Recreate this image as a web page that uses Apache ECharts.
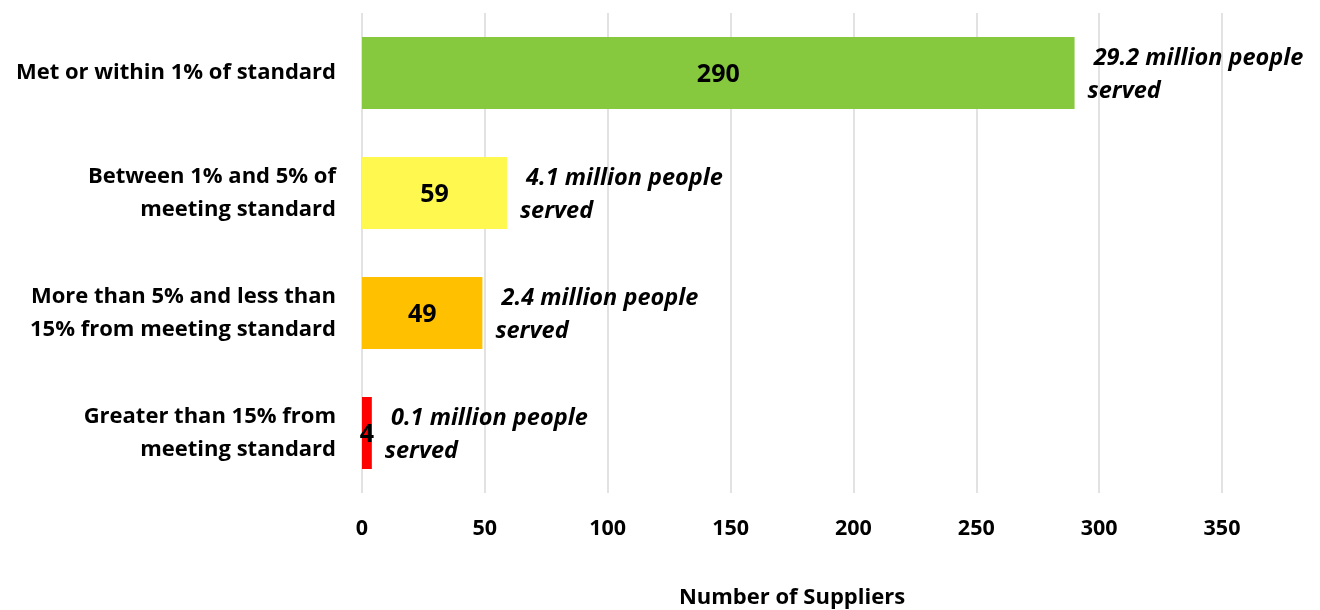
<!DOCTYPE html>
<html>
<head>
<meta charset="utf-8">
<script src="https://cdn.jsdelivr.net/npm/echarts@6/dist/echarts.min.js"></script>
<style>
  html, body { margin: 0; padding: 0; background: #fff; }
  #main { width: 1320px; height: 610px; }
</style>
</head>
<body>
<div id="main"></div>
<script>
  // categories, top to bottom
  var categories = [
    'Met or within 1% of standard',
    'Between 1% and 5% of\nmeeting standard',
    'More than 5% and less than\n15% from meeting standard',
    'Greater than 15% from\nmeeting standard'
  ];
  var suppliers = [290, 59, 49, 4];
  var peopleServed = ['29.2', '4.1', '2.4', '0.1'];
  var barColors = ['#86C83E', '#FFF94F', '#FFC000', '#FF0000'];
  var xTicks = [0, 50, 100, 150, 200, 250, 300, 350];

  var font = '"Open Sans", sans-serif';

  var chart = echarts.init(document.getElementById('main'));
  chart.setOption({
    animation: false,
    textStyle: { fontFamily: font },
    grid: { left: 362, right: 98, top: 13, height: 480, outerBoundsMode: 'none', containLabel: false },
    xAxis: {
      type: 'value',
      min: xTicks[0],
      max: xTicks[xTicks.length - 1],
      interval: 50,
      name: 'Number of Suppliers',
      nameLocation: 'middle',
      nameGap: 94,
      nameTextStyle: { fontSize: 22, fontWeight: 'bold', color: '#000', fontFamily: font },
      axisLine: { show: false },
      axisTick: { show: false },
      axisLabel: { fontSize: 21.5, fontWeight: 'bold', color: '#000', margin: 25, fontFamily: font },
      splitLine: { lineStyle: { color: '#D9D9D9', width: 1.5 } }
    },
    yAxis: {
      type: 'category',
      inverse: true,
      data: categories,
      axisLine: { show: false },
      axisTick: { show: false },
      axisLabel: {
        fontSize: 22, fontWeight: 'bold', color: '#000', margin: 26,
        lineHeight: 33, align: 'right', padding: [6, 0, 0, 0], fontFamily: font
      }
    },
    series: [
      {
        type: 'bar',
        barCategoryGap: '40%',
        data: suppliers.map(function (v, i) {
          return { value: v, itemStyle: { color: barColors[i] } };
        }),
        label: {
          show: true, position: 'inside', color: '#000', offset: [0, 2],
          fontSize: 25, fontWeight: 'bold', fontFamily: font
        },
        z: 2
      },
      {
        type: 'bar',
        barGap: '-100%',
        barCategoryGap: '40%',
        data: suppliers,
        itemStyle: { color: 'rgba(0,0,0,0)' },
        label: {
          show: true, position: 'right', distance: 13, color: '#000', offset: [0, 2],
          fontSize: 23.5, fontWeight: 'bold', fontStyle: 'italic',
          lineHeight: 33, align: 'left', fontFamily: font,
          formatter: function (p) {
            return ' ' + peopleServed[p.dataIndex] + ' million people\nserved';
          }
        },
        z: 3
      }
    ]
  });
</script>
</body>
</html>
